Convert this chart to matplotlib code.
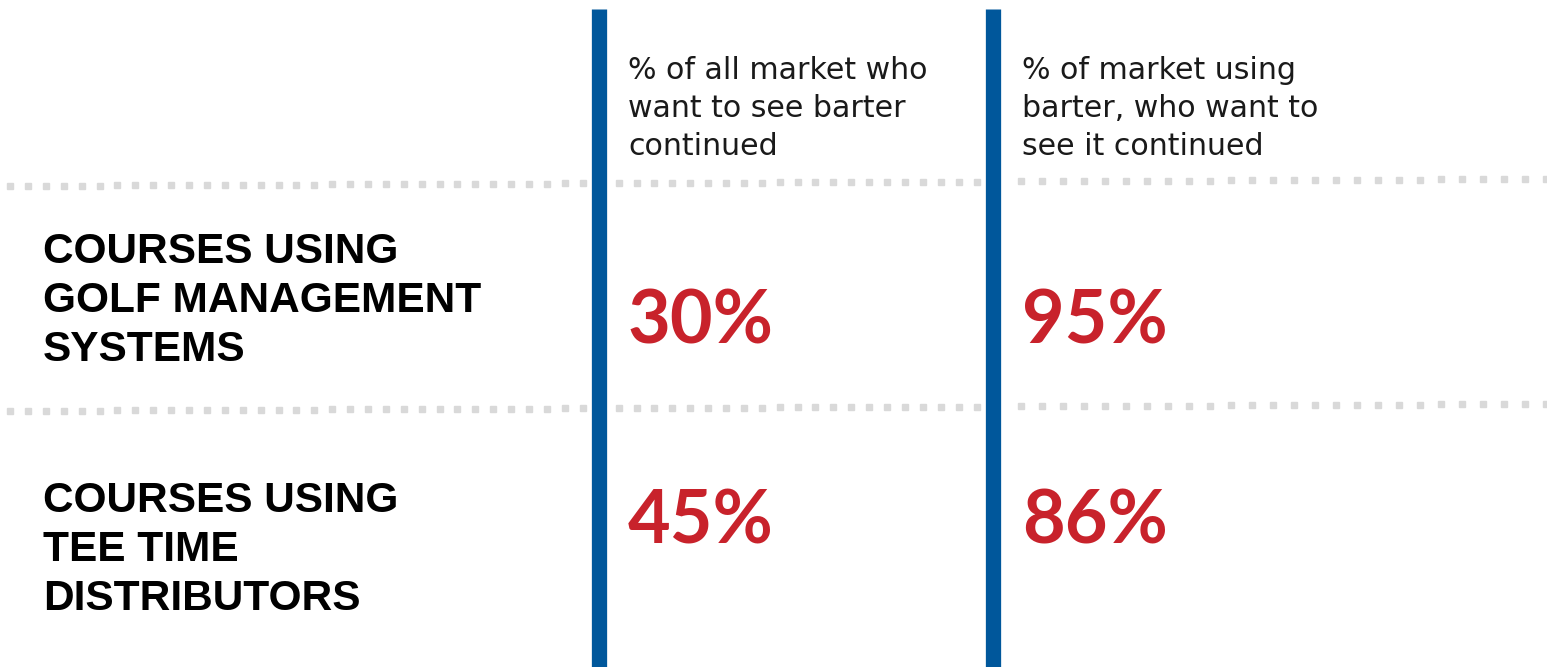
import numpy as np
import matplotlib
matplotlib.use("Agg")
import matplotlib.pyplot as plt

# Data
row_labels = ["COURSES USING\nGOLF MANAGEMENT\nSYSTEMS",
              "COURSES USING\nTEE TIME\nDISTRIBUTORS"]
column_headers = ["% of all market who\nwant to see barter\ncontinued",
                  "% of market using\nbarter, who want to\nsee it continued"]
all_market_pct = [30, 45]
barter_users_pct = [95, 86]

W, H = 1547, 667
fig = plt.figure(figsize=(W / 100, H / 100), dpi=100)
ax = fig.add_axes([0, 0, 1, 1])
ax.set_xlim(0, W)
ax.set_ylim(H, 0)
ax.axis("off")

BLUE = "#00579b"
RED = "#c8222b"
DOT = "#d9d9d9"

# Dotted separators (slightly tilted), split around the second column bar
def dotted(y_left, y_right, x0, x1, step):
    xs = np.arange(x0, x1, step)
    ys = y_left + (y_right - y_left) * xs / W
    ax.plot(xs, ys, ls="none", marker="s", ms=3.8, color=DOT, mec=DOT, zorder=1)

for yl, yr in [(186, 179), (411, 404)]:
    dotted(yl, yr, 10, 985, 17.9)
    dotted(yl, yr, 1021, W + 5, 21)

# Column bars
for xb in (598.5, 992.5):
    ax.plot([xb, xb], [9, H], color=BLUE, lw=11, solid_capstyle="butt", zorder=2)

# Column headers
for xh, txt in zip((628, 1022), column_headers):
    ax.text(xh, 56, txt, ha="left", va="top", fontsize=21.6, family="DejaVu Sans",
            color="#1a1a1a", linespacing=1.40)

# Row labels
for yc, txt in zip((301, 550), row_labels):
    ax.text(43, yc, txt, ha="left", va="center", fontsize=30.5,
            family="Liberation Sans", fontweight="bold", color="black",
            linespacing=1.28)

# Values
for yc, a, b in zip((322, 522), all_market_pct, barter_users_pct):
    ax.text(628, yc, f"{a}%", ha="left", va="center", fontsize=53,
            family="Lato", fontweight="bold", color=RED)
    ax.text(1022, yc, f"{b}%", ha="left", va="center", fontsize=53,
            family="Lato", fontweight="bold", color=RED)

fig.savefig("out.png", dpi=100, facecolor="white")
